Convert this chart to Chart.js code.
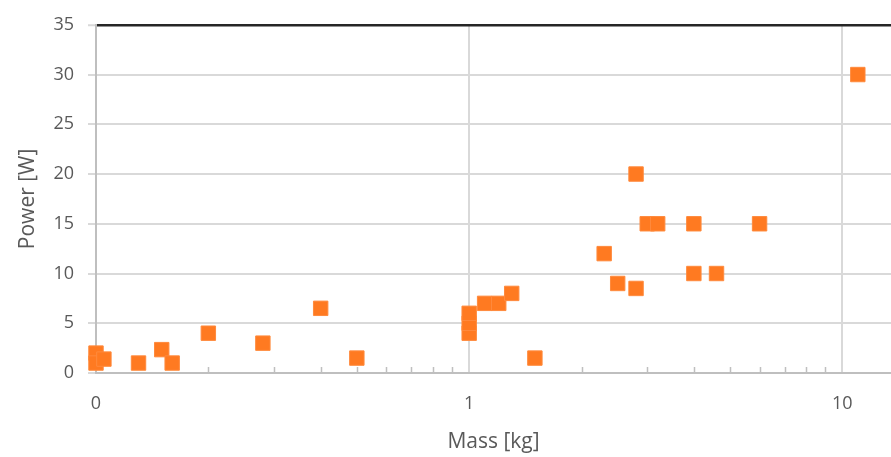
<!DOCTYPE html>
<html>
<head>
<meta charset="utf-8">
<script src="https://cdn.jsdelivr.net/npm/chart.js@4"></script>
<style>
  html, body { margin: 0; padding: 0; background: #fff; }
</style>
</head>
<body>
<canvas id="chart" width="891" height="457"></canvas>
<script>
// values: mass [kg] vs power [W]
const massKg = [0.1, 0.1, 0.105, 0.13, 0.15, 0.16, 0.2, 0.28, 0.4, 0.5, 1, 1, 1, 1.1, 1.2, 1.3, 1.5, 2.3, 2.5, 2.8, 2.8, 3.0, 3.2, 4, 4, 4.6, 6, 11];
const powerW = [2, 1, 1.4, 1, 2.35, 1, 4, 3, 6.5, 1.5, 4, 5, 6, 7, 7, 8, 1.5, 12, 9, 20, 8.5, 15, 15, 15, 10, 10, 15, 30];

// axes
const xMajorTicks = [0.1, 1, 10];
const xMajorLabels = ['0', '1', '10'];
const yTicks = [0, 5, 10, 15, 20, 25, 30, 35];
const xMin = 0.1, xMax = 13.5;

// minor log ticks (2..9 per decade), drawn as small inside marks
const minorTicks = [];
xMajorTicks.slice(0, -1).forEach(d => {
  for (let k = 2; k <= 9; k++) minorTicks.push(+(d * k).toPrecision(3));
});

const txt = '#595959';
const tickFont = { family: 'Open Sans', size: 18 };
const titleFont = { family: 'Open Sans', size: 21 };

const minorTickPlugin = {
  id: 'minorTicks',
  beforeDatasetsDraw(chart) {
    const { ctx, chartArea } = chart;
    const xs = chart.scales.x;
    ctx.save();
    ctx.strokeStyle = '#bfbfbf';
    ctx.lineWidth = 1.5;
    minorTicks.forEach(v => {
      const px = Math.round(xs.getPixelForValue(v)) + 0.5;
      ctx.beginPath();
      ctx.moveTo(px, chartArea.bottom);
      ctx.lineTo(px, chartArea.bottom - 6);
      ctx.stroke();
    });
    ctx.restore();
  }
};

new Chart(document.getElementById('chart'), {
  type: 'scatter',
  data: {
    datasets: [{
      data: massKg.map((m, i) => ({ x: m, y: powerW[i] })),
      pointStyle: 'rect',
      pointRadius: 10.2,
      backgroundColor: '#ff7a21',
      borderColor: '#ff8a3d',
      borderWidth: 1,
      clip: false
    }]
  },
  options: {
    responsive: false,
    animation: false,
    events: [],
    layout: { autoPadding: false, padding: { top: 23, right: 0, bottom: 0, left: 0 } },
    plugins: { legend: { display: false }, tooltip: { enabled: false } },
    scales: {
      x: {
        type: 'logarithmic',
        min: xMin,
        max: xMax,
        afterBuildTicks: s => { s.ticks = xMajorTicks.map(v => ({ value: v })); },
        afterFit: s => { s.height = 84; s.paddingLeft = 0; s.paddingRight = 0; },
        grid: { color: '#d9d9d9', lineWidth: 2, drawTicks: false },
        border: { color: '#bfbfbf', width: 2 },
        ticks: {
          callback: (v, i) => xMajorLabels[i],
          color: txt, font: tickFont, padding: 20,
          maxRotation: 0, autoSkip: false
        },
        title: { display: true, text: 'Mass [kg]', color: txt, font: titleFont, padding: { top: 0, bottom: 2 } }
      },
      y: {
        min: 0,
        max: 35,
        afterBuildTicks: s => { s.ticks = yTicks.map(v => ({ value: v })); },
        afterFit: s => { s.width = 96; },
        grid: {
          color: c => (c.tick && c.tick.value === 35) ? '#262626' : '#d9d9d9',
          lineWidth: c => (c.tick && c.tick.value === 35) ? 2.5 : 2,
          tickColor: '#d9d9d9',
          tickWidth: 2,
          tickLength: 8
        },
        border: { color: '#bfbfbf', width: 2 },
        ticks: { color: txt, font: tickFont, padding: 14 },
        title: { display: true, text: 'Power [W]', color: txt, font: titleFont, padding: { top: 15, bottom: 0 } }
      }
    }
  },
  plugins: [minorTickPlugin]
});
</script>
</body>
</html>
